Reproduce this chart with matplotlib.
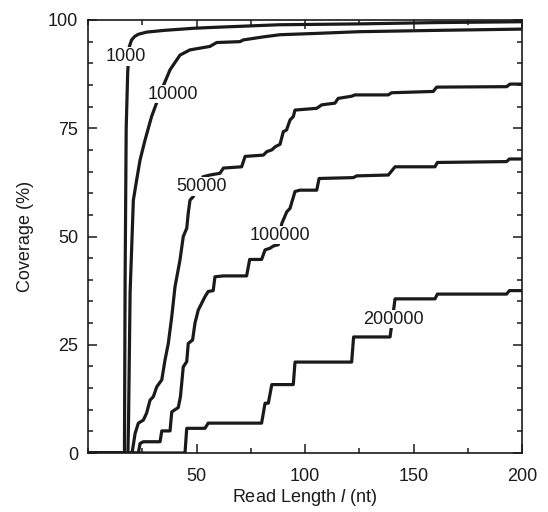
import matplotlib
matplotlib.use("Agg")
import matplotlib.pyplot as plt
from matplotlib.ticker import MultipleLocator, FixedLocator

plt.rcParams["font.family"] = ["Liberation Sans", "DejaVu Sans"]
plt.rcParams["mathtext.fontset"] = "custom"
plt.rcParams["mathtext.it"] = "Liberation Sans:italic"
plt.rcParams["mathtext.rm"] = "Liberation Sans"

# read length (nt) vs coverage (%) for each read count
c1000_x = [0, 16.8, 17.1, 17.6, 18.3, 19.0, 20.1, 21.5, 23.2, 27, 35, 49, 58, 88, 125, 160, 200]
c1000_y = [0, 0, 40, 75, 88, 93.8, 95.4, 96.2, 96.7, 97.2, 97.6, 98.1, 98.3, 98.9, 99.1, 99.4, 99.6]

c10000_x = [0, 18.4, 18.7, 19.4, 20.9, 22.4, 24.0, 26.3, 29.3, 33.2, 37.8, 42.4, 47.0, 56.2,
            59.3, 70.0, 71.6, 80.8, 88.5, 105, 125, 160, 200]
c10000_y = [0, 0, 8, 37, 58.4, 63, 67.7, 72.3, 77.7, 83, 88.5, 91.9, 93.1, 93.9,
            94.8, 95.0, 95.4, 96.1, 96.6, 96.9, 97.3, 97.6, 97.9]

c50000_x = [0, 20.3, 21.7, 23.2, 25.5, 27.0, 28.6, 30.1, 31.7, 34.0, 35.5, 37.0, 38.6, 40.1,
            42.4, 43.9, 45.5, 46.2, 47.0, 48.5, 53.0, 56.2, 60.8, 62.4, 70.8, 72.4, 80.8, 82.4,
            84.7, 86.2, 88.5, 90.0, 91.5, 93.1, 94.6, 95.4, 105.4, 107.7, 113.8, 115.3, 121.5,
            123.0, 138.4, 139.9, 159.1, 160.7, 192.9, 194.5, 200]
c50000_y = [0, 0, 4.5, 6.9, 7.6, 9.2, 12.2, 13.0, 15.3, 16.9, 21.5, 25.3, 31.5, 38.4,
            44.6, 50.0, 51.9, 55.4, 58.4, 59.2, 63.8, 64.2, 64.6, 65.8, 66.1, 68.5, 68.8, 69.6,
            70.0, 70.7, 71.3, 74.2, 74.6, 76.9, 77.7, 79.2, 79.6, 80.4, 80.8, 81.9, 82.4,
            82.7, 82.7, 83.2, 83.5, 84.5, 84.6, 85.2, 85.2]

c100000_x = [0, 23.2, 24.0, 25.5, 33.2, 34.0, 37.8, 38.6, 41.6, 42.6, 43.9, 45.5, 46.2, 48.2,
             49.3, 50.8, 52.4, 53.9, 55.4, 57.7, 58.5, 62.4, 73.1, 74.5, 80.0, 81.6, 83.9, 85.4,
             87.7, 89.3, 91.6, 93.1, 95.4, 97.7, 105.4, 106.5, 122.3, 123.8, 138.4, 141.5, 159.9,
             161.0, 192.9, 194.2, 200]
c100000_y = [0, 0, 2.2, 2.6, 2.6, 5.1, 5.1, 9.5, 10.5, 13, 19.9, 21.1, 25.3, 26.1,
             30, 33, 34.6, 36.1, 37.3, 37.5, 40.7, 40.9, 40.9, 44.7, 44.7, 46.9, 47.3, 47.8,
             48.1, 53.0, 55.7, 56.5, 60.4, 60.7, 60.7, 63.4, 63.6, 64.0, 64.2, 66.1, 66.1,
             67.1, 67.3, 67.9, 67.9]

c200000_x = [0, 44.7, 45.5, 53.9, 55.4, 80.0, 81.6, 83.1, 84.7, 94.6, 95.4, 121.5, 122.4,
             139.2, 141.5, 159.9, 161.0, 192.9, 194.2, 200]
c200000_y = [0, 0, 5.7, 5.7, 6.9, 6.9, 11.5, 11.5, 15.8, 15.8, 21.0, 21.0, 26.8,
             26.8, 35.6, 35.6, 36.7, 36.7, 37.5, 37.5]

curves = [
    ("1000", c1000_x, c1000_y, (17.2, 91.6)),
    ("10000", c10000_x, c10000_y, (39.2, 82.9)),
    ("50000", c50000_x, c50000_y, (52.2, 61.5)),
    ("100000", c100000_x, c100000_y, (88.3, 50.3)),
    ("200000", c200000_x, c200000_y, (140.7, 30.9)),
]

fig = plt.figure(figsize=(5.48, 5.12), dpi=100)
ax = fig.add_axes([88 / 548, 59 / 512, 434 / 548, 433 / 512])

for name, xs, ys, (lx, ly) in curves:
    ax.plot(xs, ys, color="#1a1a1a", linewidth=2.3, solid_joinstyle="round", zorder=2)
    ax.text(lx, ly, name, fontsize=13, ha="center", va="center", color="#1a1a1a", zorder=3,
            bbox=dict(facecolor="white", edgecolor="none", pad=0.5))

ax.set_xlim(0, 200)
ax.set_ylim(0, 100)
ax.xaxis.set_major_locator(FixedLocator([50, 100, 150, 200]))
ax.xaxis.set_minor_locator(MultipleLocator(25))
ax.yaxis.set_major_locator(MultipleLocator(25))
ax.yaxis.set_minor_locator(MultipleLocator(5))
ax.tick_params(which="both", direction="in", top=True, right=True, width=1.1,
               labelsize=13, colors="#1a1a1a")
ax.tick_params(which="major", length=6.5)
ax.tick_params(which="minor", length=3.6)
ax.tick_params(axis="y", which="major", pad=7)
ax.tick_params(axis="x", which="major", pad=11)
for sp in ax.spines.values():
    sp.set_linewidth(1.2)
    sp.set_color("#1a1a1a")

ax.set_xlabel("Read Length $\\it{l}$ (nt)", fontsize=13, color="#1a1a1a", labelpad=1)
ax.set_ylabel("Coverage (%)", fontsize=13, color="#1a1a1a", labelpad=10)

fig.savefig("out.png", dpi=100)
